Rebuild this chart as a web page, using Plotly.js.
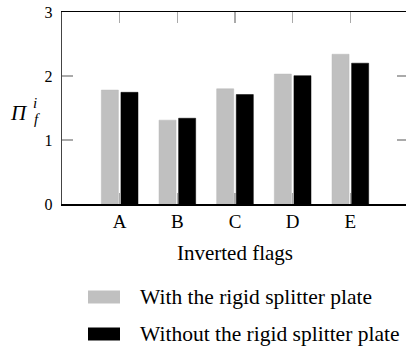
<!DOCTYPE html>
<html>
<head>
<meta charset="utf-8">
<script src="https://cdn.plot.ly/plotly-3.0.1.min.js"></script>
<style>
html,body{margin:0;padding:0;overflow:hidden;background:#fff;}
#chart{width:410px;height:346px;}
</style>
</head>
<body>
<div id="chart"></div>
<script>
var categories = ['A', 'B', 'C', 'D', 'E'];
var withPlate = [1.78, 1.31, 1.80, 2.03, 2.34];
var withoutPlate = [1.745, 1.34, 1.71, 2.005, 2.20];
var seriesNames = ['With the rigid splitter plate', 'Without the rigid splitter plate'];
var seriesColors = ['#c0c0c0', '#000000'];
var yTicks = [0, 1, 2, 3];

var FONT = 'Liberation Serif, Times New Roman, serif';

var traces = [
  {type: 'bar', x: categories, y: withPlate, name: seriesNames[0],
   marker: {color: seriesColors[0], line: {color: '#b8b8b8', width: 0.5}}},
  {type: 'bar', x: categories, y: withoutPlate, name: seriesNames[1],
   marker: {color: seriesColors[1], line: {color: '#000000', width: 0.5}}}
];

// manual legend (wide swatches) in paper coordinates
var W = 346, H = 192, L = 62, T = 12;
function px(x) { return (x - L) / W; }
function py(y) { return (T + H - y) / H; }
var legendRows = [297, 334];
var shapes = [], annotations = [];
seriesNames.forEach(function (n, i) {
  var cy = legendRows[i];
  shapes.push({type: 'rect', xref: 'paper', yref: 'paper',
    x0: px(88), x1: px(120), y0: py(cy - 6.5), y1: py(cy + 6.5),
    fillcolor: seriesColors[i], line: {width: 0}});
  annotations.push({xref: 'paper', yref: 'paper', x: px(138), y: py(cy), xanchor: 'left', yanchor: 'middle',
    text: n, showarrow: false, font: {family: FONT, size: 21.5, color: '#000'}});
});
annotations.push(
  {xref: 'paper', yref: 'paper', x: px(18.5), y: py(113), xanchor: 'center', yanchor: 'middle',
   text: '<i>Π</i>', showarrow: false, font: {family: FONT, size: 21, color: '#000'}},
  {xref: 'paper', yref: 'paper', x: px(36.5), y: py(119), xanchor: 'center', yanchor: 'middle',
   text: '<i>f</i>', showarrow: false, font: {family: FONT, size: 15, color: '#000'}},
  {xref: 'paper', yref: 'paper', x: px(35), y: py(103), xanchor: 'center', yanchor: 'middle',
   text: '<i>i</i>', showarrow: false, font: {family: FONT, size: 15, color: '#000'}}
);

var layout = {
  width: 410, height: 346,
  margin: {l: 62, r: 2, t: 12, b: 142},
  paper_bgcolor: '#fff', plot_bgcolor: '#fff',
  font: {family: FONT, color: '#000', size: 18},
  barmode: 'group', bargap: 0.32, bargroupgap: 0.13,
  showlegend: false,
  xaxis: {
    type: 'category', range: [-1, 5], showgrid: false, zeroline: false,
    showline: true, linecolor: '#000', linewidth: 1.5, mirror: 'allticks',
    ticks: 'inside', ticklen: 11, tickcolor: '#aaaaaa', tickwidth: 1.5,
    tickfont: {family: FONT, size: 19, color: '#000'},
    title: {text: 'Inverted flags', font: {family: FONT, size: 21, color: '#000'}, standoff: 14}
  },
  yaxis: {
    range: [0, 3], tickvals: yTicks, ticktext: yTicks.map(String), showgrid: false, zeroline: false,
    showline: true, linecolor: '#444', linewidth: 1.2, mirror: 'allticks',
    ticks: 'inside', ticklen: 11, tickcolor: '#aaaaaa', tickwidth: 1.5,
    ticklabelstandoff: 5,
    tickfont: {family: FONT, size: 16, color: '#000'}
  },
  shapes: shapes,
  annotations: annotations
};

Plotly.newPlot('chart', traces, layout, {displayModeBar: false, staticPlot: true});
</script>
</body>
</html>
